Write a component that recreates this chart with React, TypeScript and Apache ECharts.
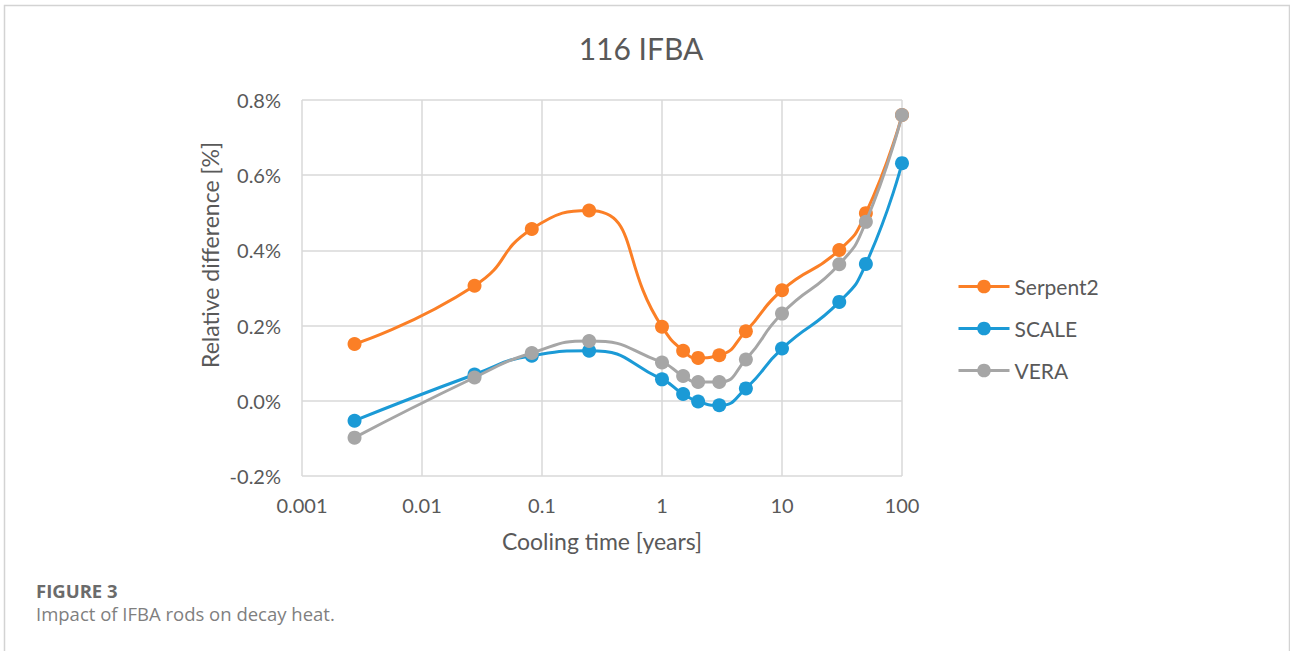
import React, { useEffect, useRef } from "react";
import * as echarts from "echarts";

const coolingTimes = [0.00274, 0.0274, 0.0822, 0.247, 1, 1.5, 2, 3, 5, 10, 30, 50, 100];
const serpent2 = [0.151, 0.306, 0.457, 0.506, 0.197, 0.133, 0.114, 0.121, 0.185, 0.294, 0.401, 0.499, 0.76];
const scale = [-0.053, 0.07, 0.12, 0.133, 0.057, 0.018, -0.002, -0.012, 0.033, 0.139, 0.263, 0.364, 0.632];
const vera = [-0.098, 0.062, 0.127, 0.159, 0.102, 0.066, 0.05, 0.05, 0.11, 0.232, 0.363, 0.476, 0.76];
const xTickLabels = ["0.001", "0.01", "0.1", "1", "10", "100"];
const seriesNames = ["Serpent2", "SCALE", "VERA"];
const seriesColors = ["#fb7f26", "#1b9ad6", "#a6a6a6"];

const FONT = "Lato, 'Open Sans', sans-serif";
const TXT = "#595959";

export default function App() {
  const ref = useRef<HTMLDivElement>(null);
  useEffect(() => {
    document.body.style.margin = "0";
    const chart = echarts.init(ref.current!, null, { renderer: "svg" });
    const allData = [serpent2, scale, vera];
    const series = allData.map((vals, i) => ({
      name: seriesNames[i],
      type: "line",
      smooth: 0.55,
      data: coolingTimes.map((t, j) => [t, vals[j]]),
      symbol: "circle",
      symbolSize: 14,
      lineStyle: { color: seriesColors[i], width: 3 },
      itemStyle: { color: seriesColors[i] },
      z: 2 + i,
    }));
    chart.setOption({
      animation: false,
      textStyle: { fontFamily: FONT },
      grid: { left: 302, right: 388, top: 100, bottom: 175, containLabel: false },
      xAxis: {
        type: "log",
        logBase: 10,
        min: 0.001,
        max: 100,
        axisLine: { show: false },
        axisTick: { show: false },
        splitLine: { show: true, lineStyle: { color: "#d9d9d9", width: 1.5 } },
        axisLabel: {
          color: TXT,
          fontSize: 20,
          fontFamily: FONT,
          margin: 19,
          formatter: (v: number) => {
            const idx = Math.round(Math.log10(v)) + 3;
            return xTickLabels[idx] ?? String(v);
          },
        },
      },
      yAxis: {
        type: "value",
        min: -0.2,
        max: 0.8,
        interval: 0.2,
        axisLine: { show: false },
        axisTick: { show: false },
        splitLine: { show: true, lineStyle: { color: "#d9d9d9", width: 1.5 } },
        axisLabel: {
          color: TXT,
          fontSize: 20,
          fontFamily: FONT,
          margin: 21,
          formatter: (v: number) => v.toFixed(1) + "%",
        },
      },
      legend: {
        orient: "vertical",
        left: 952,
        top: 271,
        itemWidth: 51,
        itemHeight: 17,
        itemGap: 21,
        lineStyle: { width: 3 },
        textStyle: { color: TXT, fontSize: 21, fontFamily: FONT },
        data: seriesNames,
      },
      graphic: [
        {
          type: "rect",
          shape: { x: 4.5, y: 5.5, width: 1285, height: 700 },
          style: { fill: "none", stroke: "#d3d3d3", lineWidth: 1.5 },
          silent: true,
        },
        {
          type: "text",
          x: 641,
          y: 48,
          style: { text: "116 IFBA", font: `30px ${FONT}`, fill: TXT, align: "center", verticalAlign: "middle" },
        },
        {
          type: "text",
          x: 210,
          y: 255,
          rotation: Math.PI / 2,
          style: {
            text: "Relative difference [%]",
            font: `23px ${FONT}`,
            fill: TXT,
            align: "center",
            verticalAlign: "middle",
          },
        },
        {
          type: "text",
          x: 602,
          y: 541,
          style: { text: "Cooling time [years]", font: `23px ${FONT}`, fill: TXT, align: "center", verticalAlign: "middle" },
        },
        {
          type: "text",
          x: 36,
          y: 590,
          style: {
            text: "FIGURE 3",
            font: `bold 18.5px 'Open Sans', sans-serif`,
            fill: "#6b6b6b",
            align: "left",
            verticalAlign: "middle",
          },
        },
        {
          type: "text",
          x: 36,
          y: 613,
          style: {
            text: "Impact of IFBA rods on decay heat.",
            font: `18.5px 'Open Sans', sans-serif`,
            fill: "#7f7f7f",
            align: "left",
            verticalAlign: "middle",
          },
        },
      ],
      series,
    });
    return () => chart.dispose();
  }, []);
  return <div ref={ref} style={{ width: 1290, height: 651 }} />;
}
